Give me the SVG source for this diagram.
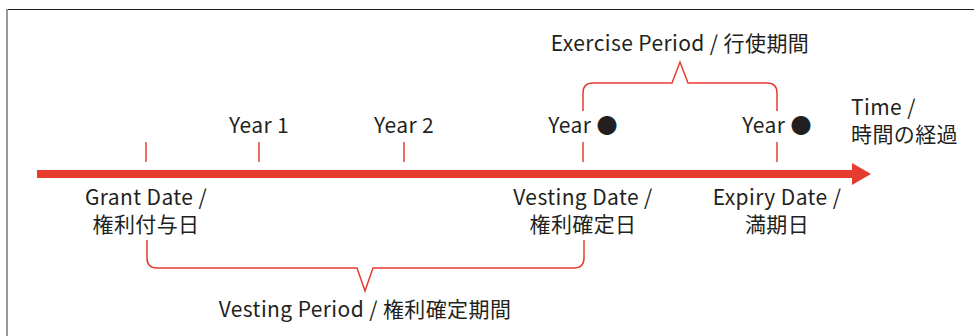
<svg xmlns="http://www.w3.org/2000/svg" width="974" height="336" viewBox="0 0 974 336">
<style>
.t{font-family:"Noto Sans CJK JP","Noto Sans",sans-serif;font-size:21px;letter-spacing:0.4px;fill:#231f20}
.m{text-anchor:middle}
.r{stroke:#e63c30;fill:none;stroke-width:1.5}
</style>
<rect width="974" height="336" fill="#fff"/>
<line x1="6" y1="9.5" x2="974" y2="9.5" stroke="#222" stroke-width="1"/>
<line x1="7" y1="9" x2="7" y2="336" stroke="#999" stroke-width="2"/>
<g id="connectors">
<rect x="37" y="170" width="816" height="8" fill="#e63c30"/>
<polygon points="852,163 871,174 852,185" fill="#e63c30"/>
<line class="r" x1="146" y1="142" x2="146" y2="162"/>
<line class="r" x1="259" y1="142" x2="259" y2="162"/>
<line class="r" x1="404" y1="142" x2="404" y2="162"/>
<line class="r" x1="583" y1="142" x2="583" y2="162"/>
<line class="r" x1="777" y1="142" x2="777" y2="162"/>
<path class="r" d="M583,111 V93 Q583,83 593,83 H672 L680,62 L688,83 H767 Q777,83 777,93 V111"/>
<path class="r" d="M147,240 V258 Q147,268 157,268 H357 L365,291 L373,268 H574 Q584,268 584,258 V240"/>
</g>
<g id="exercise-period"><text class="t m" x="680" y="51">Exercise Period / 行使期間</text></g>
<g id="year1"><text class="t m" x="259" y="133">Year 1</text></g>
<g id="year2"><text class="t m" x="404" y="133">Year 2</text></g>
<g id="year-vesting"><text class="t m" x="583" y="133">Year ●</text></g>
<g id="year-expiry"><text class="t m" x="777" y="133">Year ●</text></g>
<g id="time"><text class="t"><tspan x="851" y="115">Time /</tspan><tspan x="851" y="142">時間の経過</tspan></text></g>
<g id="grant-date"><text class="t m"><tspan x="146" y="205">Grant Date /</tspan><tspan x="146" y="232">権利付与日</tspan></text></g>
<g id="vesting-date"><text class="t m"><tspan x="583" y="205">Vesting Date /</tspan><tspan x="583" y="232">権利確定日</tspan></text></g>
<g id="expiry-date"><text class="t m"><tspan x="777" y="205">Expiry Date /</tspan><tspan x="777" y="232">満期日</tspan></text></g>
<g id="vesting-period"><text class="t m" x="365" y="317">Vesting Period / 権利確定期間</text></g>
</svg>
